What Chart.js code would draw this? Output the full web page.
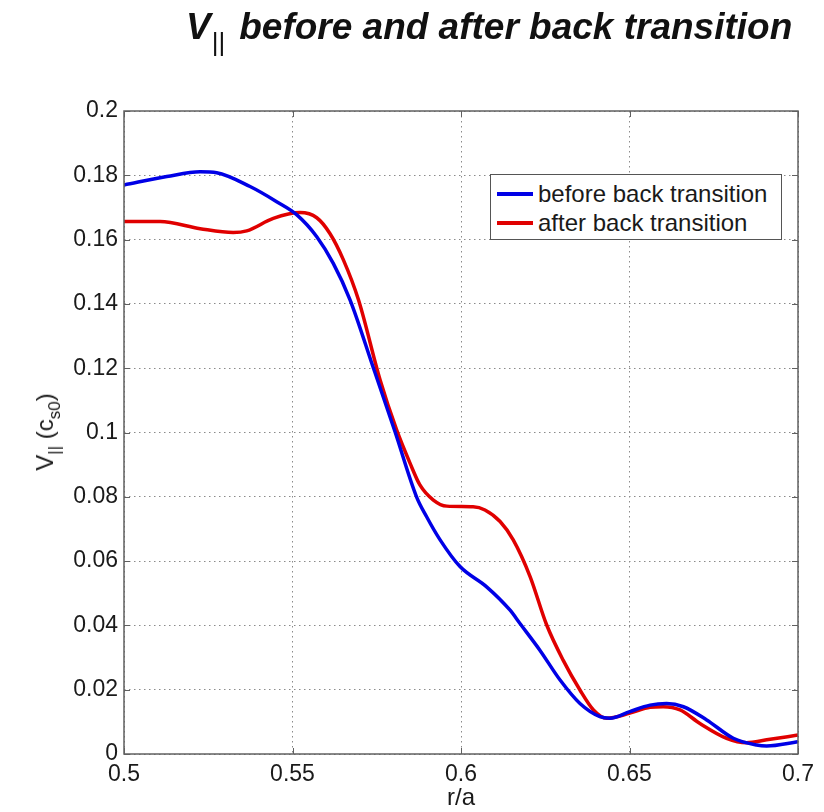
<!DOCTYPE html>
<html>
<head>
<meta charset="utf-8">
<script src="https://cdn.jsdelivr.net/npm/chart.js@4"></script>
<style>
  html,body{margin:0;padding:0;background:#fff;}
  #wrap{position:relative;width:824px;height:812px;font-family:"Liberation Sans",Arial,sans-serif;color:#1a1a1a;}
  #c{position:absolute;left:0;top:0;}
  #title{position:absolute;left:186px;top:6px;font-style:italic;font-weight:bold;font-size:37px;white-space:nowrap;color:#111;}
  #title .sub{font-style:normal;font-weight:normal;font-size:26px;position:relative;top:12px;margin-left:1px;margin-right:14px;}
  #ylab{position:absolute;left:45px;top:432px;transform:translate(-50%,-50%) rotate(-90deg);font-size:24px;white-space:nowrap;}
  #ylab .s{font-size:17px;position:relative;top:7px;}
  #xlab{position:absolute;left:461px;top:797px;transform:translate(-50%,-50%);font-size:24px;}
  #legend{position:absolute;left:490px;top:174px;width:292px;height:66px;border:1px solid #555;background:#fff;box-sizing:border-box;}
  .row{position:absolute;left:6px;height:30px;display:flex;align-items:center;font-size:24px;white-space:nowrap;}
  .sw{display:inline-block;width:36px;height:4px;margin-right:5px;}
</style>
</head>
<body>
<div id="wrap">
  <canvas id="c" width="824" height="812"></canvas>
  <div id="title">V<span class="sub">||</span>before and after back transition</div>
  <div id="ylab">V<span class="s">||</span> (c<span class="s">s0</span>)</div>
  <div id="xlab">r/a</div>
  <div id="legend"></div>
</div>
<script>
const seriesLabels = ['before back transition', 'after back transition'];
const seriesColors = ['#0000e6', '#e00000'];

const rBefore = [0.5, 0.5127, 0.5226, 0.5275, 0.5374, 0.5453, 0.5513, 0.5572, 0.5621, 0.5671, 0.5739, 0.5804, 0.5868, 0.5898, 0.5938, 0.5997, 0.6076, 0.6145, 0.6175, 0.6234, 0.6294, 0.6353, 0.6412, 0.6442, 0.6501, 0.6561, 0.6610, 0.6660, 0.6729, 0.6808, 0.6877, 0.6907, 0.7];
const vBefore = [0.1770, 0.1796, 0.1811, 0.1808, 0.1765, 0.1718, 0.1677, 0.1609, 0.1526, 0.1412, 0.1204, 0.1003, 0.0800, 0.0738, 0.0666, 0.0583, 0.0520, 0.0448, 0.0406, 0.0323, 0.0230, 0.0157, 0.0116, 0.0111, 0.0132, 0.0152, 0.0157, 0.0147, 0.0106, 0.0049, 0.0028, 0.0025, 0.0038];

const rAfter = [0.5, 0.5107, 0.5226, 0.5324, 0.5364, 0.5443, 0.5522, 0.5572, 0.5611, 0.5651, 0.5696, 0.5760, 0.5809, 0.5849, 0.5878, 0.5918, 0.5958, 0.6036, 0.6071, 0.6116, 0.6155, 0.6205, 0.6254, 0.6303, 0.6353, 0.6393, 0.6432, 0.6501, 0.6561, 0.6600, 0.6650, 0.6709, 0.6788, 0.6847, 0.6907, 0.7];
const vAfter = [0.1656, 0.1656, 0.1634, 0.1622, 0.1627, 0.1666, 0.1684, 0.1668, 0.1619, 0.1537, 0.1412, 0.1163, 0.1008, 0.0904, 0.0837, 0.0790, 0.0771, 0.0769, 0.0759, 0.0723, 0.0666, 0.0552, 0.0402, 0.0292, 0.0199, 0.0137, 0.0111, 0.0127, 0.0145, 0.0147, 0.0137, 0.0095, 0.0049, 0.0035, 0.0044, 0.0059];

const xTicks = [0.5, 0.55, 0.6, 0.65, 0.7];
const xTickLabels = ['0.5', '0.55', '0.6', '0.65', '0.7'];
const yTicks = [0, 0.02, 0.04, 0.06, 0.08, 0.1, 0.12, 0.14, 0.16, 0.18, 0.2];
const yTickLabels = ['0', '0.02', '0.04', '0.06', '0.08', '0.1', '0.12', '0.14', '0.16', '0.18', '0.2'];

function pts(xs, ys){ return xs.map((x,i)=>({x:x, y:ys[i]})); }

const frameColor = '#606060';
const boxPlugin = {
  id: 'box',
  afterDraw(chart){
    const {ctx, chartArea:a, scales} = chart;
    ctx.save();
    ctx.strokeStyle = frameColor;
    ctx.lineWidth = 1.5;
    ctx.setLineDash([]);
    ctx.strokeRect(a.left, a.top, a.right - a.left, a.bottom - a.top);
    ctx.lineWidth = 1;
    const L = 6;
    ctx.beginPath();
    scales.x.ticks.forEach(t=>{
      const px = Math.round(scales.x.getPixelForValue(t.value)) + 0.5;
      ctx.moveTo(px, a.bottom); ctx.lineTo(px, a.bottom - L);
      ctx.moveTo(px, a.top); ctx.lineTo(px, a.top + L);
    });
    scales.y.ticks.forEach(t=>{
      const py = Math.round(scales.y.getPixelForValue(t.value)) + 0.5;
      ctx.moveTo(a.left, py); ctx.lineTo(a.left + L, py);
      ctx.moveTo(a.right, py); ctx.lineTo(a.right - L, py);
    });
    ctx.stroke();
    ctx.restore();
  }
};

const chart = new Chart(document.getElementById('c'), {
  type: 'line',
  data: {
    datasets: [
      { label: seriesLabels[0], data: pts(rBefore, vBefore), borderColor: seriesColors[0], backgroundColor: seriesColors[0], borderWidth: 3.5, pointRadius: 0, cubicInterpolationMode: 'monotone', fill: false },
      { label: seriesLabels[1], data: pts(rAfter, vAfter), borderColor: seriesColors[1], backgroundColor: seriesColors[1], borderWidth: 3.5, pointRadius: 0, cubicInterpolationMode: 'monotone', fill: false }
    ]
  },
  options: {
    responsive: false,
    animation: false,
    devicePixelRatio: 1,
    layout: { padding: { left: 0, top: 111, right: 26, bottom: 0 } },
    plugins: { legend: { display: false }, title: { display: false }, tooltip: { enabled: false } },
    scales: {
      x: {
        type: 'linear', min: 0.5, max: 0.7,
        afterBuildTicks(s){ s.ticks = xTicks.map(v=>({value:v})); },
        afterFit(s){ s.height = 58; },
        ticks: { callback: (v, i) => xTickLabels[i], font: { family: 'Liberation Sans', size: 23 }, color: '#1a1a1a', padding: 7, maxRotation: 0, autoSkip: false },
        grid: { color: '#8a8a8a', lineWidth: 1, drawTicks: false },
        border: { display: false, dash: [1.5, 3.5] }
      },
      y: {
        type: 'linear', min: 0, max: 0.2,
        afterBuildTicks(s){ s.ticks = yTicks.map(v=>({value:v})); },
        afterFit(s){ s.width = 124; },
        ticks: { callback: (v, i) => yTickLabels[i], font: { family: 'Liberation Sans', size: 23 }, color: '#1a1a1a', padding: 6, autoSkip: false },
        grid: { color: '#8a8a8a', lineWidth: 1, drawTicks: false },
        border: { display: false, dash: [1.5, 3.5] }
      }
    }
  },
  plugins: [boxPlugin]
});

// legend built from chart datasets
const lg = document.getElementById('legend');
chart.data.datasets.forEach((ds, i) => {
  const row = document.createElement('div');
  row.className = 'row';
  row.style.top = (4 + i * 29) + 'px';
  const sw = document.createElement('span');
  sw.className = 'sw';
  sw.style.background = ds.borderColor;
  row.appendChild(sw);
  row.appendChild(document.createTextNode(ds.label));
  lg.appendChild(row);
});
</script>
</body>
</html>
